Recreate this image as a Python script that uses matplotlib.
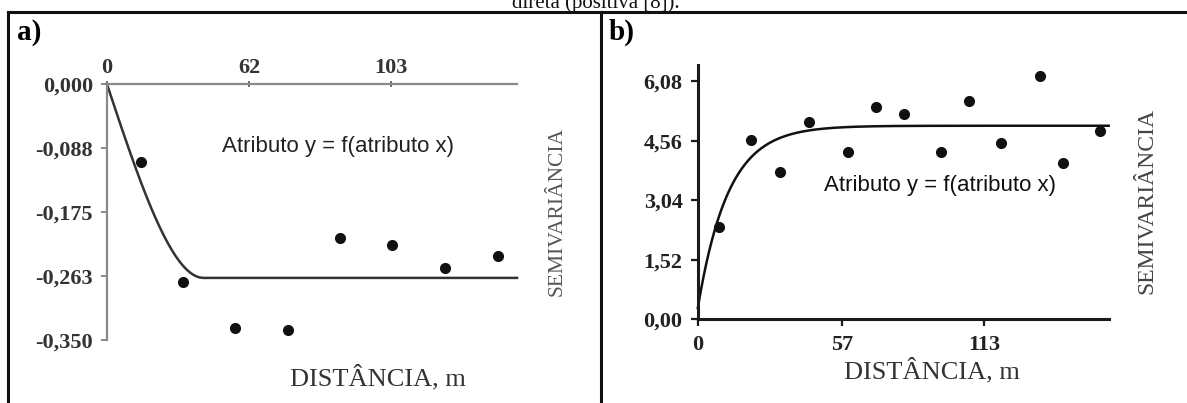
import numpy as np
import matplotlib
matplotlib.use('Agg')
import matplotlib.pyplot as plt
from matplotlib.lines import Line2D

W, H = 1187, 403

# ---- painel a) : semivariograma cruzado (negativo)
a_dist = [12.3, 27.7, 46.4, 65.8, 84.5, 103.5, 122.6, 141.8]
a_semiv = [-0.107, -0.270, -0.333, -0.336, -0.210, -0.220, -0.251, -0.235]
a_xtick_pos = [0, 51.5, 103]
a_xtick_lab = ['0', '62', '103']
a_ytick = [0.000, -0.0875, -0.175, -0.2625, -0.350]
a_ytick_lab = ['0,000', '-0,088', '-0,175', '-0,263', '-0,350']
# modelo esferico: efeito pepita, patamar, alcance
a_model = dict(nugget=0.0, sill=-0.265, rng=35.0)

# ---- painel b) : semivariograma cruzado (positivo)
b_dist = [8.2, 20.9, 32.4, 43.9, 59.4, 70.2, 81.5, 96.0, 106.9, 119.7, 134.9, 144.1, 158.9]
b_semiv = [2.36, 4.57, 3.76, 5.03, 4.26, 5.42, 5.25, 4.27, 5.58, 4.51, 6.21, 3.98, 4.80]
b_xtick = [0, 57, 113]
b_ytick = [0.00, 1.52, 3.04, 4.56, 6.08]
b_ytick_lab = ['0,00', '1,52', '3,04', '4,56', '6,08']
# modelo exponencial
b_model = dict(nugget=0.29, sill=4.94, rng=36.0)


def spherical(h, nugget, sill, rng):
    r = np.clip(h / rng, 0, 1)
    return nugget + (sill - nugget) * (1.5 * r - 0.5 * r ** 3)


def exponential(h, nugget, sill, rng):
    return nugget + (sill - nugget) * (1 - np.exp(-3 * h / rng))


def rect(l, t, r, b):
    # pixels -> fracao da figura
    return [l / W, 1 - b / H, (r - l) / W, (b - t) / H]


serif = 'Liberation Serif'
sans = 'Liberation Sans'

fig = plt.figure(figsize=(W / 100, H / 100), dpi=100)
fig.patch.set_facecolor('white')

# moldura da tabela
def px_line(x0, y0, x1, y1, lw=2.2):
    fig.add_artist(Line2D([x0 / W, x1 / W], [1 - y0 / H, 1 - y1 / H],
                          transform=fig.transFigure, color='#111111', lw=lw))

px_line(8, 12, 1187, 12)
px_line(8, 12, 8, 403)
px_line(601, 12, 601, 403)

# legenda cortada no topo (como no original)
fig.text(596 / W, 1 - 8 / H, 'direta (positiva [8]).', family=serif, fontsize=15,
         ha='center', va='baseline', color='#111111')

fig.text(17 / W, 1 - 33 / H, 'a)', family=serif, fontsize=21, fontweight='bold',
         ha='left', va='center')
fig.text(609 / W, 1 - 32 / H, 'b)', family=serif, fontsize=21, fontweight='bold',
         ha='left', va='center')

# ---------------- painel a
axa = fig.add_axes(rect(107, 84.3, 517, 340))
axa.set_xlim(0, 148.7)
axa.set_ylim(-0.350, 0)
axa.patch.set_alpha(0)
for s in ['right', 'bottom']:
    axa.spines[s].set_visible(False)
for s in ['top', 'left']:
    axa.spines[s].set_color('#8a8a8a')
    axa.spines[s].set_linewidth(1.6)
axa.xaxis.tick_top()
axa.set_xticks(a_xtick_pos)
axa.set_xticklabels(a_xtick_lab)
axa.set_yticks(a_ytick)
axa.set_yticklabels(a_ytick_lab)
axa.tick_params(axis='x', direction='inout', length=5, width=1.2, color='#555555', pad=2)
axa.tick_params(axis='y', direction='out', length=4, width=1.2, color='#777777', pad=6)
for lab in axa.get_xticklabels() + axa.get_yticklabels():
    lab.set_family(serif)
    lab.set_fontweight('bold')
    lab.set_fontsize(16)
    lab.set_color('#333333')

ha = np.linspace(0, 148.7, 300)
axa.plot(ha, spherical(ha, **a_model), color='#333333', lw=1.8, clip_on=False)
axa.plot(a_dist, a_semiv, 'o', color='#111111', ms=7, clip_on=False)
fig.text(338 / W, 1 - 146.7 / H, 'Atributo y = f(atributo x)', family=sans,
         fontsize=16, ha='center', va='center', color='#222222')
fig.text(557 / W, 1 - 211.5 / H, 'SEMIVARIÂNCIA', family=serif, fontsize=15.5,
         rotation=90, ha='center', va='center', color='#555555')
fig.text(378 / W, 1 - 378 / H, 'DISTÂNCIA, m', family=serif, fontsize=19,
         ha='center', va='center', color='#333333')

# ---------------- painel b
axb = fig.add_axes(rect(697.8, 65, 1108.7, 319.3))
axb.set_xlim(0, 162.2)
axb.set_ylim(0, 6.49)
axb.patch.set_alpha(0)
for s in ['right', 'top']:
    axb.spines[s].set_visible(False)
for s in ['bottom', 'left']:
    axb.spines[s].set_color('#1a1a1a')
    axb.spines[s].set_linewidth(2.2)
axb.set_xticks(b_xtick)
axb.set_xticklabels([str(v) for v in b_xtick])
axb.set_yticks(b_ytick)
axb.set_yticklabels(b_ytick_lab)
axb.tick_params(direction='out', length=5, width=1.6, color='#1a1a1a', pad=6)
for lab in axb.get_xticklabels() + axb.get_yticklabels():
    lab.set_family(serif)
    lab.set_fontweight('bold')
    lab.set_fontsize(16)
    lab.set_color('#222222')

hb = np.linspace(0, 162.2, 300)
axb.plot(hb, exponential(hb, **b_model), color='#111111', lw=1.8, clip_on=False)
axb.plot(b_dist, b_semiv, 'o', color='#111111', ms=7, clip_on=False)
fig.text(940 / W, 1 - 185 / H, 'Atributo y = f(atributo x)', family=sans,
         fontsize=16, ha='center', va='center', color='#111111')
fig.text(1146.7 / W, 1 - 201 / H, 'SEMIVARIÂNCIA', family=serif, fontsize=17,
         rotation=90, ha='center', va='center', color='#444444')
fig.text(932 / W, 1 - 370.7 / H, 'DISTÂNCIA, m', family=serif, fontsize=19,
         ha='center', va='center', color='#333333')

fig.savefig('out.png', dpi=100)
